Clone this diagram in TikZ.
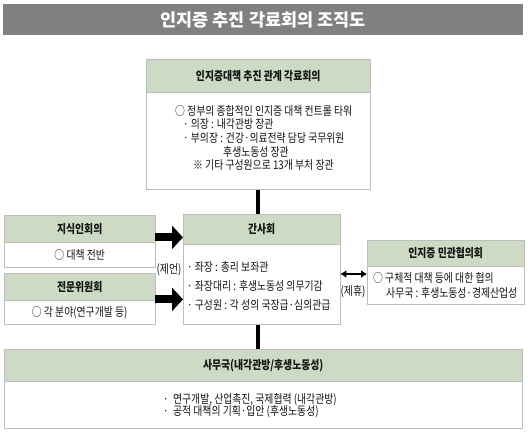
\documentclass[tikz,border=0pt]{standalone}
\usepackage{fontspec}
\setmainfont{Noto Sans CJK KR}[FakeStretch=0.82]
\newfontfamily\titlefont{Noto Sans CJK KR}
\usetikzlibrary{arrows.meta,calc}
\definecolor{hdrgreen}{RGB}{205,218,196}
\definecolor{boxgray}{RGB}{190,190,190}
\definecolor{titlegray}{RGB}{128,128,128}
\definecolor{txt}{RGB}{20,20,20}
\tikzset{
  hdr/.style={draw=boxgray, fill=hdrgreen, inner sep=0pt, anchor=north west,
    font=\fontsize{12}{14}\selectfont\bfseries, text=txt},
  bodybox/.style={draw=boxgray, fill=white, inner sep=0pt, anchor=north west},
  txtl/.style={anchor=west, inner sep=0pt, font=\fontsize{12}{14}\selectfont, text=txt},
  txtc/.style={anchor=center, inner sep=0pt, font=\fontsize{12}{14}\selectfont, text=txt},
  fatarrow/.style={line width=8pt, draw=black, -{Triangle[length=11pt,width=23pt]}},
  conn/.style={line width=4pt, draw=black},
  twoway/.style={line width=2pt, draw=black, {Latex[length=6pt,width=8pt]}-{Latex[length=6pt,width=8pt]}}
}
\begin{document}
\begin{tikzpicture}[x=1pt,y=-1pt]
\useasboundingbox (0,0) rectangle (528,432);
\fill[white] (0,0) rectangle (528,432);
% title
\node[fill=titlegray, minimum width=520pt, minimum height=31pt, inner sep=0pt, anchor=north west,
  text=white, font=\titlefont\fontsize{17.5}{19}\selectfont\bfseries] (title) at (3,4) {인지증 추진 각료회의 조직도};
% top box
\node[hdr, minimum width=224pt, minimum height=33pt] (toph) at (146,59) {인지증대책 추진 관계 각료회의};
\node[bodybox, minimum width=224pt, minimum height=97pt] (topb) at (toph.south west) {};
\node[txtl] (t1) at (175,111) {○ 정부의 종합적인 인지증 대책 컨트롤 타워};
\node[txtl] (t2) at (183,124.5) {· 의장 : 내각관방 장관};
\node[txtl] (t3) at (183,138) {· 부의장 : 건강·의료전략 담당 국무위원};
\node[txtl] (t4) at (223,151.5) {후생노동성 장관};
\node[txtl] (t5) at (193,165) {※ 기타 구성원으로 13개 부처 장관};
% left box 1
\node[hdr, minimum width=151pt, minimum height=27pt] (k1h) at (4,215) {지식인회의};
\node[bodybox, minimum width=151pt, minimum height=25pt] (k1b) at (k1h.south west) {};
\node[txtc] (k1t) at (k1b.center) {○ 대책 전반};
% left box 2
\node[hdr, minimum width=151pt, minimum height=27pt] (k2h) at (4,273) {전문위원회};
\node[bodybox, minimum width=151pt, minimum height=24pt] (k2b) at (k2h.south west) {};
\node[txtc] (k2t) at (k2b.center) {○ 각 분야(연구개발 등)};
% center box
\node[hdr, minimum width=157pt, minimum height=30pt] (kanh) at (183,214) {간사회};
\node[bodybox, minimum width=157pt, minimum height=80pt] (kanb) at (kanh.south west) {};
\node[txtl] (c1) at (187,267) {· 좌장 : 총리 보좌관};
\node[txtl] (c2) at (187,286) {· 좌장대리 : 후생노동성 의무기감};
\node[txtl] (c3) at (187,305) {· 구성원 : 각 성의 국장급·심의관급};
% right box
\node[hdr, minimum width=157pt, minimum height=26pt] (minh) at (367,240) {인지증 민관협의회};
\node[bodybox, minimum width=157pt, minimum height=38pt] (minb) at (minh.south west) {};
\node[txtl] (r1) at (373,278) {○ 구체적 대책 등에 대한 협의};
\node[txtl] (r2) at (386,293) {사무국 : 후생노동성·경제산업성};
% bottom box
\node[hdr, minimum width=518pt, minimum height=32pt] (bh) at (4,349) {사무국(내각관방/후생노동성)};
\node[bodybox, minimum width=518pt, minimum height=47pt] (bb) at (bh.south west) {};
\node[txtl] (b1) at (163,400) {·\ \ 연구개발, 산업촉진, 국제협력 (내각관방)};
\node[txtl] (b2) at (163,412) {·\ \ 공적 대책의 기획·입안 (후생노동성)};
% connectors
\draw[conn] (topb.south -| 258,0) -- (kanh.north -| 258,0);
\draw[conn] (kanb.south -| 258,0) -- (bh.north -| 258,0);
\coordinate (a1) at (k1h.south east);
\coordinate (a2) at (k2h.south east);
\draw[fatarrow] ($(a1)+(0,-5)$) -- ($(a1 -| kanh.west)+(0,-5)$);
\draw[fatarrow] ($(a2)+(0,-1)$) -- ($(a2 -| kanh.west)+(0,-1)$);
\node[txtc] (jeon) at (169,270) {(제언)};
\draw[twoway] (kanb.east |- 0,274) -- (minb.west |- 0,274);
\node[txtc] (jehyu) at (353,292) {(제휴)};
\end{tikzpicture}
\end{document}
